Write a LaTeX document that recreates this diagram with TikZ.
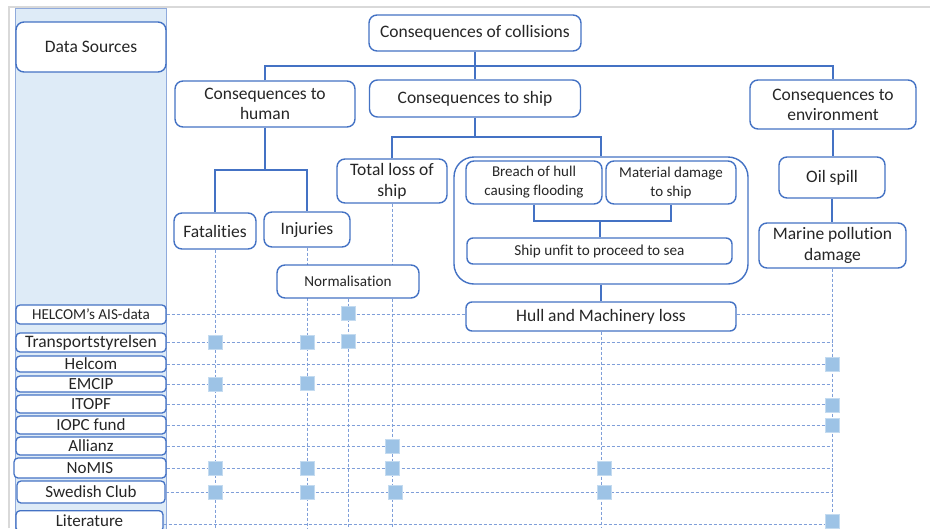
\documentclass[tikz,border=0pt]{standalone}
\usepackage{fontspec}
\setmainfont{Carlito}[Ligatures={NoCommon}]
\usetikzlibrary{backgrounds}
\definecolor{bord}{HTML}{4472C4}
\definecolor{dash}{HTML}{7F9FD9}
\definecolor{mkfill}{HTML}{9DC3E6}
\definecolor{panel}{HTML}{DEEBF7}
\definecolor{panelb}{HTML}{8FAADC}
\definecolor{frame}{HTML}{D9D9D9}
\tikzset{
  box/.style={draw=bord, line width=1.4pt, fill=white, rounded corners=8pt, inner sep=0pt, align=center, text=black!85},
  sbox/.style={draw=bord, line width=1.3pt, fill=white, rounded corners=4pt, inner sep=0pt, align=center, text=black!85, minimum width=150pt, font=\fontsize{17}{19}\selectfont},
  conn/.style={draw=bord, line width=1.4pt},
  dl/.style={draw=dash, line width=0.8pt, dash pattern=on 3pt off 2pt},
  mk/.style={fill=mkfill, draw=mkfill!60, line width=0.4pt, minimum width=14pt, minimum height=14pt, inner sep=0pt},
}
\begin{document}
\begin{tikzpicture}[x=1pt,y=-1pt]
\useasboundingbox (0,0) rectangle (930,528);
\begin{scope}[on background layer]
\fill[white] (0,0) rectangle (930,528);
\draw[frame, line width=2pt] (9,528) -- (9,7) -- (930,7);
\fill[panel] (15,8) rectangle (166,530);
\draw[panelb, line width=1pt] (15,530) -- (15,8) -- (166,8) -- (166,530);
\end{scope}

% tree nodes
\node[box, minimum width=150pt, minimum height=50pt, font=\fontsize{17.5}{20}\selectfont] (ds) at (91,47) {Data Sources};
\node[box, minimum width=212pt, minimum height=36pt, font=\fontsize{17.5}{20}\selectfont] (coll) at (475,33) {Consequences of collisions};
\node[box, minimum width=180pt, minimum height=46pt, font=\fontsize{17.5}{20}\selectfont] (human) at (265,104) {Consequences to\\human};
\node[box, minimum width=211pt, minimum height=37pt, font=\fontsize{17.5}{20}\selectfont] (ship) at (475,98.5) {Consequences to ship};
\node[box, minimum width=166pt, minimum height=49pt, font=\fontsize{17.5}{20}\selectfont] (env) at (833,104.5) {Consequences to\\environment};
\node[box, minimum width=82pt, minimum height=36pt, font=\fontsize{17.5}{20}\selectfont] (fat) at (215,231) {Fatalities};
\node[box, minimum width=86pt, minimum height=35pt, font=\fontsize{17.5}{20}\selectfont] (inj) at (307,229.5) {Injuries};
\node[box, minimum width=110pt, minimum height=44pt, font=\fontsize{17.5}{21}\selectfont] (total) at (392,181) {Total loss of\\ship};
\node[box, minimum width=294pt, minimum height=127pt, rounded corners=20pt] (cont) at (601,220.5) {};
\node[box, minimum width=136pt, minimum height=43pt, font=\fontsize{15}{19}\selectfont] (breach) at (534,182.5) {Breach of hull\\causing flooding};
\node[box, minimum width=130pt, minimum height=43pt, font=\fontsize{15}{19}\selectfont] (mat) at (671,182.5) {Material damage\\to ship};
\node[box, minimum width=265pt, minimum height=26pt, rounded corners=6pt, font=\fontsize{15.2}{17}\selectfont] (unfit) at (599.5,251) {Ship unfit to proceed to sea};
\node[box, minimum width=270pt, minimum height=29pt, rounded corners=6pt, font=\fontsize{17.5}{20}\selectfont] (hull) at (601,316.5) {Hull and Machinery loss};
\node[box, minimum width=106pt, minimum height=41pt, font=\fontsize{17.5}{20}\selectfont] (oil) at (832,177.5) {Oil spill};
\node[box, minimum width=147pt, minimum height=45pt, font=\fontsize{17.5}{21}\selectfont] (marine) at (832.5,245.5) {Marine pollution\\damage};
\node[box, minimum width=142pt, minimum height=33pt, font=\fontsize{15.2}{18}\selectfont] (norm) at (348,281.5) {Normalisation};

% data sources
\node[sbox, minimum height=19pt, font=\fontsize{15.2}{17}\selectfont] (ais) at (91,314.5) {HELCOM’s AIS-data};
\node[sbox, minimum height=19pt, font=\fontsize{17.5}{19}\selectfont] (trans) at (91,342.5) {Transportstyrelsen};
\node[sbox, minimum height=16pt] (helcom) at (91,364) {Helcom};
\node[sbox, minimum height=16pt] (emcip) at (91,384) {EMCIP};
\node[sbox, minimum height=18pt] (itopf) at (91,404) {ITOPF};
\node[sbox, minimum height=18pt] (iopc) at (91,425) {IOPC fund};
\node[sbox, minimum height=18pt] (allianz) at (91,446) {Allianz};
\node[sbox, minimum height=20pt, minimum width=152pt] (nomis) at (90,468) {NoMIS};
\node[sbox, minimum height=22pt, minimum width=148pt] (swed) at (91,492) {Swedish Club};
\node[sbox, minimum height=21pt, minimum width=147pt, anchor=north] (lit) at (89.5,510) {Literature};

\coordinate (bot) at (0,528);
\coordinate (bus) at (475,66);
\coordinate (sbus) at (475,137);
\coordinate (hbus) at (265,170);
\coordinate (bbus) at (600,221);

\begin{scope}[on background layer]
% solid connectors
\draw[conn] (coll.south) -- (ship.north);
\draw[conn] (human.north) |- (bus) -| (env.north);
\draw[conn] (ship.south) -- (sbus);
\draw[conn] (total.north) |- (sbus) -| (cont.north);
\draw[conn] (human.south) -- (hbus);
\draw[conn] (fat.north) |- (hbus) -| (inj.north);
\draw[conn] (cont.south) -- (hull.north);
\draw[conn] (env.south) -- (env.south |- oil.north);
\draw[conn] (oil.south) -- (oil.south |- marine.north);
% dashed verticals
\draw[dl] (fat.south) -- (fat.south |- bot);
\draw[dl] (inj.south) -- (inj.south |- bot);
\draw[dl] (norm.south) -- (norm.south |- bot);
\draw[dl] (total.south) -- (total.south |- bot);
\draw[dl] (hull.south) -- (hull.south |- bot);
\draw[dl] (marine.south) -- (marine.south |- bot);
% dashed horizontals
\draw[dl] (ais.east) -- (ais.east -| hull.west);
\draw[dl] (ais.east -| hull.east) -- (ais.east -| marine.south);
\foreach \s in {trans,helcom,emcip,itopf,iopc,allianz,nomis,swed}
  \draw[dl] (\s.east) -- (\s.east -| marine.south);
\draw[dl] (lit.east |- 0,524) -- (marine.south |- 0,524);
\end{scope}
\draw[conn] (breach.south) |- (bbus) -| (mat.south);
\draw[conn] (bbus) -- (bbus |- unfit.north);

% markers
\node[mk] (m1) at (norm.south |- 0,313) {};
\node[mk] (m2) at (fat.south |- trans.east) {};
\node[mk] (m3) at (inj.south |- trans.east) {};
\node[mk] (m4) at (norm.south |- 0,341) {};
\node[mk] (m5) at (marine.south |- helcom.east) {};
\node[mk] (m6) at (fat.south |- emcip.east) {};
\node[mk] (m7) at (inj.south |- 0,383) {};
\node[mk] (m8) at (marine.south |- 0,405) {};
\node[mk] (m9) at (marine.south |- iopc.east) {};
\node[mk] (m10) at (total.south |- allianz.east) {};
\node[mk] (m11) at (fat.south |- nomis.east) {};
\node[mk] (m12) at (inj.south |- nomis.east) {};
\node[mk] (m13) at (total.south |- nomis.east) {};
\node[mk] (m14) at ([xshift=3pt]hull.south |- nomis.east) {};
\node[mk] (m15) at (fat.south |- swed.east) {};
\node[mk] (m16) at (inj.south |- swed.east) {};
\node[mk] (m17) at ([xshift=3pt]total.south |- swed.east) {};
\node[mk] (m18) at ([xshift=3pt]hull.south |- swed.east) {};
\node[mk] (m19) at (marine.south |- 0,521) {};
\end{tikzpicture}
\end{document}
